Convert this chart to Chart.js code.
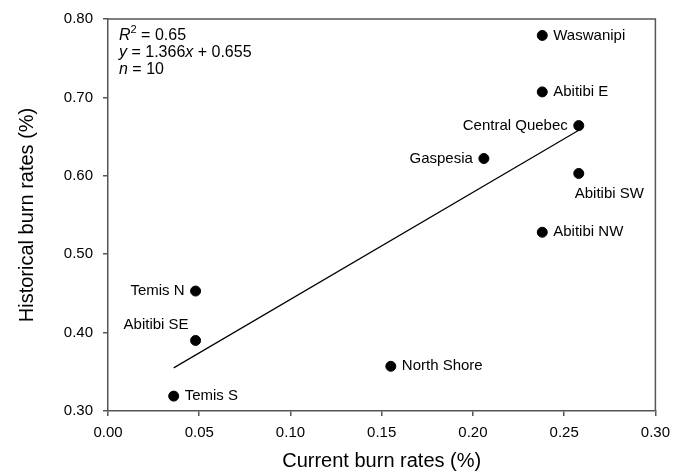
<!DOCTYPE html>
<html>
<head>
<meta charset="utf-8">
<script src="https://cdn.jsdelivr.net/npm/chart.js@4/dist/chart.umd.min.js"></script>
<style>
  html, body { margin: 0; padding: 0; background: #fff; }
  #wrap { width: 678px; height: 474px; }
</style>
</head>
<body>
<div id="wrap"><canvas id="burnCanvas" width="678" height="474"></canvas></div>
<script>
// site names and burn rates (%)
const sites = ["Waswanipi", "Abitibi E", "Central Quebec", "Gaspesia", "Abitibi SW",
               "Abitibi NW", "Temis N", "Abitibi SE", "Temis S", "North Shore"];
const currentRates = [0.238, 0.238, 0.258, 0.206, 0.258, 0.238, 0.048, 0.048, 0.036, 0.155];
const historicalRates = [0.779, 0.707, 0.664, 0.622, 0.603, 0.528, 0.453, 0.390, 0.319, 0.357];

// regression line end points
const fitX = [0.036, 0.258];
const fitY = [0.355, 0.658];

const statsLines = [
    [["R", true], ["2", false, true], [" = 0.65", false]],
    [["y", true], [" = 1.366", false], ["x", true], [" + 0.655", false]],
    [["n", true], [" = 10", false]]
];

const FONT = "'Liberation Sans', Arial, sans-serif";
const AXIS_COLOR = '#555555';

// where each label sits relative to its point
const labelSide = {
    "Central Quebec": 'left',
    "Gaspesia": 'left',
    "Temis N": 'left',
    "Abitibi SE": 'aboveLeft',
    "Abitibi SW": 'below'
};

//---------------------- PLUGINS

const framePlugin = {
    id: 'frame',
    afterDraw(chart) {
        const {ctx, chartArea} = chart;
        ctx.save();
        ctx.strokeStyle = AXIS_COLOR;
        ctx.lineWidth = 1.5;
        ctx.beginPath();
        ctx.moveTo(chartArea.left, chartArea.top);
        ctx.lineTo(chartArea.right, chartArea.top);
        ctx.lineTo(chartArea.right, chartArea.bottom);
        ctx.stroke();
        ctx.restore();
    }
};

const labelPlugin = {
    id: 'siteLabels',
    afterDatasetsDraw(chart) {
        const {ctx} = chart;
        const meta = chart.getDatasetMeta(0);
        ctx.save();
        ctx.font = `15px ${FONT}`;
        ctx.fillStyle = '#000';
        meta.data.forEach((pt, i) => {
            const name = sites[i];
            const side = labelSide[name] || 'right';
            ctx.textBaseline = 'middle';
            if (side === 'left') {
                ctx.textAlign = 'right';
                ctx.fillText(name, pt.x - 11, pt.y);
            } else if (side === 'aboveLeft') {
                ctx.textAlign = 'right';
                ctx.fillText(name, pt.x - 7, pt.y - 16);
            } else if (side === 'below') {
                ctx.textAlign = 'left';
                ctx.fillText(name, pt.x - 4, pt.y + 20);
            } else {
                ctx.textAlign = 'left';
                ctx.fillText(name, pt.x + 11, pt.y);
            }
        });
        ctx.restore();
    }
};

const statsPlugin = {
    id: 'stats',
    afterDraw(chart) {
        const {ctx, chartArea} = chart;
        ctx.save();
        ctx.fillStyle = '#000';
        ctx.textAlign = 'left';
        ctx.textBaseline = 'alphabetic';
        let y = chartArea.top + 21;
        statsLines.forEach(parts => {
            let x = chartArea.left + 11;
            parts.forEach(([txt, italic, sup]) => {
                ctx.font = `${italic ? 'italic ' : ''}${sup ? 11 : 16}px ${FONT}`;
                ctx.fillText(txt, x, sup ? y - 7 : y);
                x += ctx.measureText(txt).width;
            });
            y += 17;
        });
        ctx.restore();
    }
};

//---------------------- CHART

new Chart(document.getElementById("burnCanvas").getContext("2d"), {
    type: 'scatter',
    data: {
        datasets: [
            {
                label: 'Sites',
                data: sites.map((s, i) => ({x: currentRates[i], y: historicalRates[i]})),
                backgroundColor: '#000',
                borderColor: '#000',
                pointRadius: 5,
                pointHoverRadius: 5
            },
            {
                type: 'line',
                label: 'Fit',
                data: fitX.map((x, i) => ({x: x, y: fitY[i]})),
                borderColor: '#000',
                borderWidth: 1.2,
                pointRadius: 0,
                fill: false
            }
        ]
    },
    options: {
        responsive: false,
        animation: false,
        layout: {
            padding: {left: 0, top: 16, right: 21, bottom: 0}
        },
        plugins: {
            legend: {display: false},
            tooltip: {enabled: false}
        },
        scales: {
            x: {
                type: 'linear',
                min: 0,
                max: 0.3,
                afterFit: scale => { scale.height = 63; },
                ticks: {
                    stepSize: 0.05,
                    color: '#000',
                    padding: 8,
                    font: {family: FONT, size: 15},
                    callback: v => v.toFixed(2)
                },
                grid: {
                    drawOnChartArea: false,
                    drawTicks: true,
                    tickLength: 5,
                    color: AXIS_COLOR,
                    lineWidth: 1.5
                },
                border: {color: AXIS_COLOR, width: 1.5},
                title: {
                    display: true,
                    text: 'Current burn rates (%)',
                    color: '#000',
                    font: {family: FONT, size: 20},
                    padding: {top: 0, bottom: 1}
                }
            },
            y: {
                type: 'linear',
                min: 0.3,
                max: 0.8,
                afterFit: scale => { scale.width = 108; },
                ticks: {
                    stepSize: 0.1,
                    color: '#000',
                    padding: 10,
                    font: {family: FONT, size: 15},
                    callback: v => v.toFixed(2)
                },
                grid: {
                    drawOnChartArea: false,
                    drawTicks: true,
                    tickLength: 5,
                    color: AXIS_COLOR,
                    lineWidth: 1.5
                },
                border: {color: AXIS_COLOR, width: 1.5},
                title: {
                    display: true,
                    text: 'Historical burn rates (%)',
                    color: '#000',
                    font: {family: FONT, size: 20},
                    padding: {top: 15, bottom: 0}
                }
            }
        }
    },
    plugins: [framePlugin, labelPlugin, statsPlugin]
});
</script>
</body>
</html>
